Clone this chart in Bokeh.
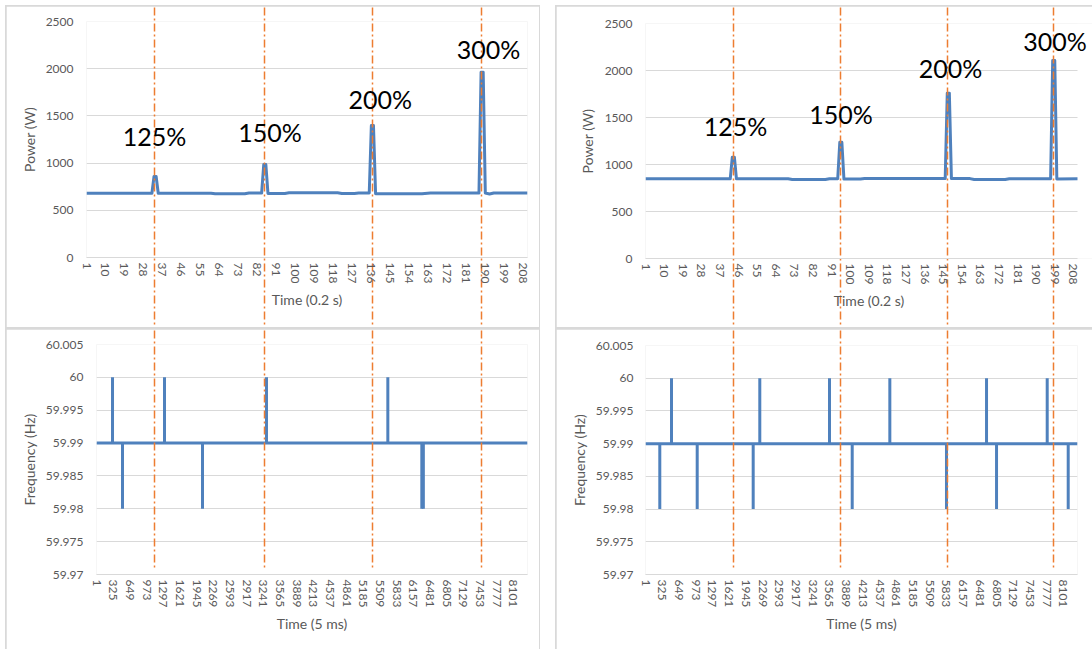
from bokeh.plotting import figure
from bokeh.layouts import column, row
from bokeh.models import (Range1d, FixedTicker, CustomJSTickFormatter, ColumnDataSource, LinearAxis, LabelSet,
                          BoxAnnotation)
from bokeh.embed import file_html
from bokeh.resources import INLINE
from bokeh.core.properties import value

# ---------------- data ----------------
# Power traces (sample index, 0.2 s per sample) - polyline vertices
power_a_t = [1, 32, 33, 34, 35, 60, 62, 76, 78, 84, 85, 86, 87, 95, 97, 120, 122, 128, 130, 135,
             136, 137, 138, 160, 164, 187, 188, 189, 190, 192, 194, 210]
power_a_w = [681, 681, 858, 858, 681, 681, 675, 675, 683, 683, 985, 985, 678, 678, 685, 685, 678, 678, 683, 683,
             1398, 1398, 676, 676, 682, 682, 1963, 1963, 683, 672, 684, 684]
power_b_t = [1, 42, 43, 44, 45, 70, 72, 88, 90, 94, 95, 96, 97, 105, 107, 146, 147, 148, 149, 158,
             160, 175, 177, 197, 198, 199, 200, 210]
power_b_w = [848, 848, 1078, 1078, 848, 848, 840, 840, 848, 848, 1237, 1237, 845, 845, 850, 850, 1759, 1759, 850, 850,
             840, 840, 848, 848, 2106, 2106, 845, 848]
power_samples = 210

# Overload labels
pct_labels = ["125%", "150%", "200%", "300%"]
pct_a_x = [33.2, 88.0, 140.2, 191.5]
pct_a_y = [1285, 1325, 1675, 2205]
pct_b_x = [44.5, 95.6, 148.6, 199.1]
pct_b_y = [1405, 1532, 2030, 2312]

# Frequency traces (sample index, 5 ms per sample)
freq_samples = 8373
freq_base = 59.99
freq_high = 60.0
freq_low = 59.98
freq_a_up = [312, 1322, 3303, 5660]
freq_a_down = [506, 2060, 6320, 6350]
freq_b_up = [505, 2216, 3567, 4736, 6610, 7786]
freq_b_down = [278, 1003, 2088, 4007, 5834, 6804, 8193]

# Event markers (orange dash-dot lines), in each panel's own sample units
events_power_a = [33.2, 85.4, 136.5, 188.2]
events_power_b = [43.6, 95.3, 147.1, 198.4]
events_freq_a = [1128, 3264, 5362, 7480]
events_freq_b = [1706, 3780, 5854, 7908]

# Ticks
power_x_ticks = [1, 10, 19, 28, 37, 46, 55, 64, 73, 82, 91, 100, 109, 118, 127, 136, 145, 154, 163, 172,
                 181, 190, 199, 208]
freq_x_ticks = [1, 325, 649, 973, 1297, 1621, 1945, 2269, 2593, 2917, 3241, 3565, 3889, 4213, 4537, 4861,
                5185, 5509, 5833, 6157, 6481, 6805, 7129, 7453, 7777, 8101]
power_y_ticks = [0, 500, 1000, 1500, 2000, 2500]
freq_y_ticks = [59.97, 59.975, 59.98, 59.985, 59.99, 59.995, 60.0, 60.005]

# ---------------- styling ----------------
BLUE = "#4f81bd"
ORANGE = "#ED7D31"
GRID = "#d9d9d9"
TXT = "#595959"
FONT = "Lato"
DASH = "8 3 2 3"


def make_fig(W, H, fl, fw, ft, fh, xr, yr, margin):
    p = figure(width=W, height=H, output_backend="svg", toolbar_location=None,
               x_range=Range1d(*xr), y_range=Range1d(*yr),
               min_border_left=fl, min_border_right=W - fl - fw,
               min_border_top=ft, min_border_bottom=H - ft - fh, margin=margin)
    p.outline_line_color = None
    p.background_fill_color = "white"
    p.border_fill_color = "white"
    p.xgrid.grid_line_color = None
    p.ygrid.grid_line_color = GRID
    p.ygrid.grid_line_width = 1
    for ax in (p.xaxis[0], p.yaxis[0]):
        ax.major_tick_line_color = None
        ax.minor_tick_line_color = None
        ax.major_tick_out = 0
        ax.major_tick_in = 0
        ax.minor_tick_out = 0
        ax.minor_tick_in = 0
        ax.major_label_text_font = FONT
        ax.major_label_text_font_size = "12px"
        ax.major_label_text_color = TXT
        ax.axis_label_text_font = FONT
        ax.axis_label_text_font_size = "14px"
        ax.axis_label_text_font_style = "normal"
        ax.axis_label_text_color = TXT
    p.xaxis.axis_line_color = GRID
    p.yaxis.axis_line_color = None
    p.xaxis.major_label_orientation = "vertical"
    return p


def add_events(p, events, tick_out, tick_in):
    ax = LinearAxis(ticker=FixedTicker(ticks=events), axis_line_color=None,
                    major_tick_line_color=ORANGE, major_tick_line_width=1.5, major_tick_line_dash=DASH,
                    major_tick_out=tick_out, major_tick_in=tick_in,
                    minor_tick_line_color=None, minor_tick_out=0, minor_tick_in=0,
                    major_label_text_font_size="0px", major_label_standoff=0,
                    major_label_text_alpha=0)
    p.add_layout(ax, "above")


def power_panel(W, fl, fw, ft, fh, t, w, lx, ly, events, margin, extra_right_px=0):
    H = 321
    # extra_right_px widens the frame past the data so the top-right label is not clipped;
    # the grid beyond the data end is masked and the axis line is bounded to the data.
    x_end = power_samples + extra_right_px * (power_samples - 1) / fw
    p = make_fig(W, H, fl, fw + extra_right_px, ft, fh, (1, x_end), (0, 2500), margin)
    if extra_right_px:
        p.add_layout(BoxAnnotation(left=power_samples, fill_color="white", fill_alpha=1,
                                   line_color=None, line_alpha=0, level="underlay"))
        p.xaxis[0].bounds = (1, power_samples)
    p.line(t, w, line_width=3, color=BLUE, line_join="round")
    src = ColumnDataSource(dict(x=lx, y=ly, text=pct_labels))
    p.add_layout(LabelSet(x="x", y="y", text="text", source=src, text_font=value(FONT),
                          text_font_size=value("25px"), text_color="black",
                          text_align="center", text_baseline="middle"))
    p.xaxis[0].ticker = FixedTicker(ticks=power_x_ticks)
    p.yaxis[0].ticker = FixedTicker(ticks=power_y_ticks)
    p.xaxis[0].axis_label = "Time (0.2 s)"
    p.yaxis[0].axis_label = "Power (W)"
    add_events(p, events, ft - 1, H - ft)
    return p


def freq_panel(W, fl, fw, ft, fh, ups, downs, events, margin):
    H = 320
    p = make_fig(W, H, fl, fw, ft, fh, (1, freq_samples), (59.97, 60.005), margin)
    p.line([1, freq_samples], [freq_base, freq_base], line_width=3, color=BLUE)
    p.segment(x0=ups, y0=[freq_base] * len(ups), x1=ups, y1=[freq_high] * len(ups),
              line_width=3, color=BLUE)
    p.segment(x0=downs, y0=[freq_base] * len(downs), x1=downs, y1=[freq_low] * len(downs),
              line_width=3, color=BLUE)
    p.xaxis[0].ticker = FixedTicker(ticks=freq_x_ticks)
    p.yaxis[0].ticker = FixedTicker(ticks=freq_y_ticks)
    p.yaxis[0].formatter = CustomJSTickFormatter(
        code="return tick.toFixed(3).replace(/0+$/, '').replace(/\\.$/, '');")
    p.xaxis[0].axis_label = "Time (5 ms)"
    p.yaxis[0].axis_label = "Frequency (Hz)"
    add_events(p, events, ft - 1, fh - 6)
    return p


p1 = power_panel(533, 80, 441, 15, 236, power_a_t, power_a_w, pct_a_x, pct_a_y, events_power_a, (1, 1, 1, 1))
p2 = power_panel(536, 89, 432, 17, 235, power_b_t, power_b_w, pct_b_x, pct_b_y, events_power_b, (1, 0, 1, 1),
                 extra_right_px=15)
p3 = freq_panel(533, 90, 431, 15, 230, freq_a_up, freq_a_down, events_freq_a, (1, 1, 0, 1))
p4 = freq_panel(536, 89, 432, 16, 229, freq_b_up, freq_b_down, events_freq_b, (1, 0, 0, 1))

# axis spacing
for p, ys, yls in ((p1, 13, 5), (p2, 13, 6), (p3, 13, 5), (p4, 12, 5)):
    p.yaxis[0].major_label_standoff = ys
    p.yaxis[0].axis_label_standoff = yls
for p in (p1, p2):
    p.xaxis[0].major_label_standoff = 5
    p.xaxis[0].axis_label_standoff = 9
for p in (p3, p4):
    p.xaxis[0].major_label_standoff = 7
    p.xaxis[0].axis_label_standoff = 7

# light grey chart-area borders: wrappers with grey background, figures inset by 1px
w1 = column(p1, styles={"background-color": GRID}, margin=(5, 15, 0, 5))
w2 = column(p2, styles={"background-color": GRID}, margin=(5, 0, 0, 0))
w3 = column(p3, styles={"background-color": GRID}, margin=(0, 15, 0, 5))
w4 = column(p4, styles={"background-color": GRID}, margin=(0, 0, 0, 0))

layout = column(row(w1, w2), row(w3, w4))
open("out.html", "w").write(file_html(layout, INLINE))
